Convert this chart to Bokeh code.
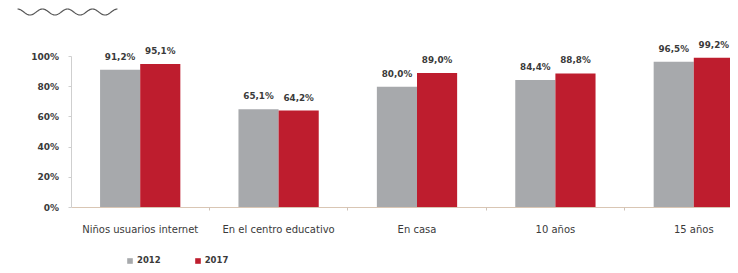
import numpy as np
from bokeh.plotting import figure
from bokeh.models import (Range1d, FixedTicker, PrintfTickFormatter, ColumnDataSource,
                          Legend, LegendItem)
from bokeh.core.properties import value
from bokeh.embed import file_html
from bokeh.resources import INLINE

categories = ["Niños usuarios internet", "En el centro educativo", "En casa", "10 años", "15 años"]
values_2012 = [91.2, 65.1, 80.0, 84.4, 96.5]
values_2017 = [95.1, 64.2, 89.0, 88.8, 99.2]
series_names = ["2012", "2017"]
y_ticks = [0, 20, 40, 60, 80, 100]

GRAY = "#A7A9AC"
RED = "#BE1D2E"
TXT = "#3a3a3a"
FONT = "DejaVu Sans"

W, H = 730, 265
# screen layout (pixels inside the figure)
X0_PX, CAT_PX = 70.5, 138.4   # x of value axis, width of one category
Y0_PX, HUNDRED_PX = 58, 151   # height of zero line above bottom, pixels per 100 %

x_start = -X0_PX / CAT_PX
x_end = (W - X0_PX) / CAT_PX
y_start = -Y0_PX * 100 / HUNDRED_PX
y_end = (H - Y0_PX) * 100 / HUNDRED_PX

def fmt(v):
    return f"{v:.1f}%".replace(".", ",")

idx = np.arange(len(categories))
centers = idx + 0.5
off = 0.145
bw = 0.29

src12 = ColumnDataSource(dict(x=centers - off, top=values_2012, lab=[fmt(v) for v in values_2012]))
src17 = ColumnDataSource(dict(x=centers + off, top=values_2017, lab=[fmt(v) for v in values_2017]))

p = figure(width=W, height=H, output_backend="svg", toolbar_location=None,
           x_range=Range1d(x_start, x_end), y_range=Range1d(y_start, y_end),
           min_border_left=0, min_border_right=0, min_border_top=0, min_border_bottom=0)
p.outline_line_color = None
p.xgrid.visible = False
p.ygrid.visible = False

r12 = p.vbar(x="x", top="top", width=bw, source=src12, color=GRAY, line_color=None)
r17 = p.vbar(x="x", top="top", width=bw, source=src17, color=RED, line_color=None)

for s in (src12, src17):
    p.text(x="x", y="top", text="lab", source=s, text_align="center", text_baseline="bottom",
           y_offset=-8, text_font=value(FONT), text_font_size="8.8px", text_font_style="bold",
           text_color=TXT)

# x axis drawn at y = 0
xa = p.xaxis[0]
xa.fixed_location = 0
xa.bounds = (0, x_end)
xa.ticker = FixedTicker(ticks=list(centers), minor_ticks=[float(i) for i in idx[1:]])
xa.major_label_overrides = {float(c): n for c, n in zip(centers, categories)}
xa.major_tick_line_color = None
xa.minor_tick_line_color = "#cfc3b8"
xa.minor_tick_out = 3
xa.minor_tick_in = 0
xa.axis_line_color = "#d9c6b4"
xa.major_label_text_font = FONT
xa.major_label_text_font_size = "10px"
xa.major_label_text_color = TXT
xa.major_label_standoff = 10

# y axis drawn at x = 0
ya = p.yaxis[0]
ya.fixed_location = 0
ya.bounds = (0, 100)
ya.ticker = FixedTicker(ticks=y_ticks)
ya.formatter = PrintfTickFormatter(format="%d%%")
ya.axis_line_color = "#cfcfcf"
ya.major_tick_line_color = "#cfcfcf"
ya.major_tick_out = 3
ya.major_tick_in = 0
ya.minor_tick_line_color = None
ya.major_label_text_font = FONT
ya.major_label_text_font_size = "9px"
ya.major_label_text_font_style = "bold"
ya.major_label_text_color = TXT
ya.major_label_standoff = 9

legend = Legend(items=[LegendItem(label=series_names[0], renderers=[r12]),
                       LegendItem(label=series_names[1], renderers=[r17])],
                orientation="horizontal", location=(126, 0),
                label_text_font=FONT, label_text_font_size="8.5px", label_text_font_style="bold",
                label_text_color=TXT, glyph_width=7, glyph_height=7, spacing=33,
                border_line_color=None, background_fill_alpha=0, margin=0, padding=0,
                label_standoff=4, label_height=10)
p.add_layout(legend)

# decorative wave at the top-left corner (screen pixels -> data)
wx_px = np.linspace(17, 117, 200)
wy_px = H - 11.5 + 3 * np.cos((wx_px - 17) / 25 * 2 * np.pi)
p.line(x=x_start + wx_px / CAT_PX, y=y_start + wy_px * 100 / HUNDRED_PX,
       line_color="#555555", line_width=1.2)

open("out.html", "w").write(file_html(p, INLINE))
